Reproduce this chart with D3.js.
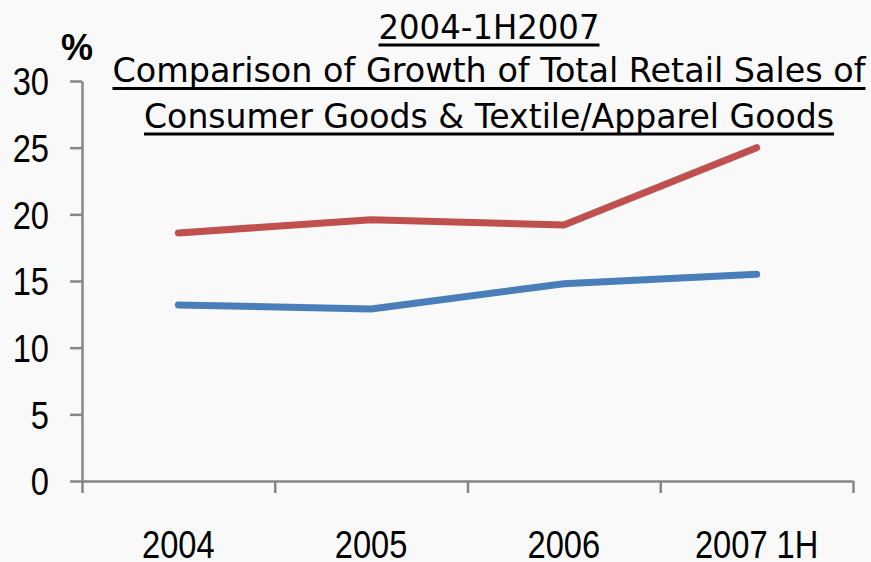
<!DOCTYPE html>
<html>
<head>
<meta charset="utf-8">
<script src="https://cdn.jsdelivr.net/npm/d3@7"></script>
<style>
  html, body { margin: 0; padding: 0; background: #f9f9f9; }
  svg { display: block; }
</style>
</head>
<body>
<script>
// Growth rates (%) by period
const categories = ["2004", "2005", "2006", "2007 1H"];
const retailGrowth = [13.2, 12.9, 14.8, 15.5];      // total retail sales of consumer goods
const apparelGrowth = [18.6, 19.6, 19.2, 25.0];     // textile / apparel goods
const yTicks = [0, 5, 10, 15, 20, 25, 30];
const titleLines = [
  "2004-1H2007",
  "Comparison of Growth of Total Retail Sales of",
  "Consumer Goods & Textile/Apparel Goods"
];
const seriesColors = ["#4a7ebb", "#c0504d"];

const W = 871, H = 562;
const plot = { left: 82, right: 853, top: 81, bottom: 481 };

const svg = d3.select("body").append("svg")
  .attr("width", W).attr("height", H)
  .style("background", "#f9f9f9");

const x = d3.scaleBand().domain(categories).range([plot.left, plot.right]).padding(0);
const xEdge = d3.scaleLinear().domain([0, categories.length]).range([plot.left, plot.right]);
const y = d3.scaleLinear().domain([0, 30]).range([plot.bottom, plot.top]);

const axisColor = "#868686";
const labelFont = "'Liberation Sans', Arial, sans-serif";
const squeeze = 0.86;

// Y axis
const yAxis = svg.append("g")
  .attr("transform", `translate(${plot.left},0)`)
  .call(d3.axisLeft(y).tickValues(yTicks).tickSize(12).tickSizeOuter(0).tickFormat(d3.format("d")));
yAxis.selectAll("path, line").attr("stroke", axisColor).attr("stroke-width", 2.5);
yAxis.selectAll("text")
  .attr("fill", "#000")
  .style("font-family", labelFont)
  .style("font-size", "38px")
  .attr("text-anchor", "end")
  .attr("transform", `scale(${squeeze},1)`)
  .attr("x", -33 / squeeze)
  .attr("dy", "0.36em");

// X axis: tick marks on category boundaries
const xTickAxis = svg.append("g")
  .attr("transform", `translate(0,${plot.bottom})`)
  .call(d3.axisBottom(xEdge).tickValues(d3.range(categories.length + 1)).tickSize(12).tickSizeOuter(0).tickFormat(""));
xTickAxis.selectAll("path, line").attr("stroke", axisColor).attr("stroke-width", 2.5);

// X axis: category labels at band centres
const xLabelAxis = svg.append("g")
  .attr("transform", `translate(0,${plot.bottom})`)
  .call(d3.axisBottom(x).tickSize(0));
xLabelAxis.select(".domain").remove();
xLabelAxis.selectAll("text")
  .attr("fill", "#000")
  .style("font-family", labelFont)
  .style("font-size", "38px")
  .attr("transform", `scale(${squeeze},1)`)
  .attr("y", 77)
  .attr("dy", 0)
  .attr("x", 0);
// shift labels to account for horizontal squeeze of the group coordinates
xLabelAxis.selectAll(".tick").each(function(d) {
  const cx = x(d) + x.bandwidth() / 2;
  d3.select(this).attr("transform", `translate(${cx},0)`);
});

// Lines
const line = d3.line()
  .x((d, i) => x(categories[i]) + x.bandwidth() / 2)
  .y(d => y(d));

[retailGrowth, apparelGrowth].forEach((series, k) => {
  svg.append("path")
    .datum(series)
    .attr("fill", "none")
    .attr("stroke", seriesColors[k])
    .attr("stroke-width", 7)
    .attr("stroke-linecap", "round")
    .attr("stroke-linejoin", "round")
    .attr("d", line);
});

// Unit label
svg.append("text")
  .attr("x", 77).attr("y", 60)
  .attr("text-anchor", "middle")
  .style("font-family", labelFont)
  .style("font-weight", "bold")
  .style("font-size", "36px")
  .text("%");

// Underlined title block
const titleFont = "Tahoma, 'DejaVu Sans', sans-serif";
const titleCenter = 489;
const titleBaselines = [38.5, 82, 127.5];
const titleWidths = [221, 753, 690];
titleLines.forEach((t, i) => {
  const w = titleWidths[i];
  svg.append("text")
    .attr("x", titleCenter).attr("y", titleBaselines[i])
    .attr("text-anchor", "middle")
    .attr("textLength", w)
    .attr("lengthAdjust", "spacingAndGlyphs")
    .style("font-family", titleFont)
    .style("font-size", "34px")
    .attr("fill", "#000")
    .text(t);
  svg.append("line")
    .attr("x1", titleCenter - w / 2).attr("x2", titleCenter + w / 2)
    .attr("y1", titleBaselines[i] + 6.5).attr("y2", titleBaselines[i] + 6.5)
    .attr("stroke", "#000").attr("stroke-width", 3);
});
</script>
</body>
</html>
